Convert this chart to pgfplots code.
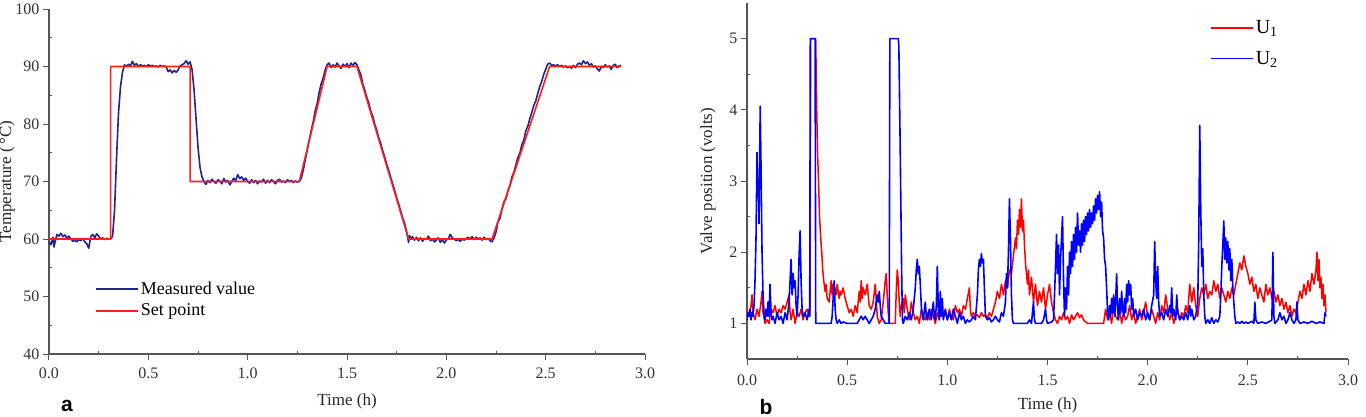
\documentclass[border=0pt]{standalone}
\usepackage{fontspec}
\setmainfont{Liberation Serif}
\newfontfamily\panelfont{Liberation Sans}
\usepackage{pgfplots}
\pgfplotsset{compat=1.18}
\definecolor{meas}{RGB}{35,35,140}
\definecolor{setp}{RGB}{255,30,30}
\definecolor{uone}{RGB}{255,0,0}
\definecolor{utwo}{RGB}{0,0,255}
\definecolor{axisgray}{RGB}{85,85,85}

\pgfplotsset{
  common/.style={
    scale only axis, anchor=south west,
    axis x line=bottom, axis y line=left,
    axis line style={-, draw=axisgray, line width=1.2bp},
    tick style={draw=axisgray, line width=1bp},
    tick align=outside, major tick length=6bp, minor tick length=-3bp,
    xmin=0, xmax=3, xtick={0,0.5,1,1.5,2,2.5,3}, minor x tick num=1,
    /pgf/number format/assume math mode=true,
    xticklabel style={/pgf/number format/fixed, /pgf/number format/fixed zerofill, /pgf/number format/precision=1, font=\fontsize{16bp}{19bp}\selectfont, color=black!80},
    yticklabel style={font=\fontsize{16bp}{19bp}\selectfont, color=black!80},
    label style={font=\fontsize{17bp}{20bp}\selectfont, color=black!85},
    legend cell align=left,
  }
}

\begin{document}
\begin{tikzpicture}
\useasboundingbox (0bp,0bp) rectangle (1366bp,417bp);
\begin{axis}[common,
  at={(49bp,63bp)}, width=596bp, height=345bp,
  ymin=40, ymax=100, ytick={40,50,...,100}, minor y tick num=1,
  xticklabel style={yshift=-4bp},
  xlabel={Time (h)}, ylabel={Temperature (\,°C)},
  xlabel style={at={(axis description cs:0.5,0)}, anchor=center, yshift=-47bp},
  ylabel style={at={(axis description cs:-0.0705,0.5)}, anchor=center},
  legend image code/.code={\draw[#1] (0bp,0bp) -- (42bp,0bp);},
  legend style={draw=none, fill=none, at={(axis cs:0.2315,53.25)}, anchor=north west, inner sep=0pt, nodes={inner xsep=2pt, inner ysep=4bp}, font=\fontsize{18bp}{21bp}\selectfont},
]
\addplot[meas, line width=1.6bp, line join=round] coordinates {
(0.00,59.6)(0.01,59.0)(0.02,60.3)(0.025,58.6)(0.03,59.4)(0.04,60.8)(0.05,60.5)(0.06,61.0)(0.07,60.4)(0.08,60.7)(0.09,60.2)(0.10,60.5)(0.11,60.0)(0.12,59.6)(0.13,59.8)(0.14,59.5)(0.15,59.9)(0.16,59.7)(0.17,60.1)(0.18,59.5)(0.19,59.2)(0.20,58.4)(0.21,60.4)(0.22,60.8)(0.23,60.2)(0.24,60.9)(0.25,60.5)(0.26,60.0)(0.27,60.2)(0.28,59.9)(0.29,60.1)(0.30,60.0)(0.31,60.0)(0.32,60.5)(0.33,65)(0.34,74)(0.35,82)(0.36,86.5)(0.37,89.0)(0.38,90.3)(0.39,90.0)(0.40,90.4)(0.41,90.1)(0.42,90.9)(0.43,90.2)(0.44,90.5)(0.45,90.0)(0.46,90.3)(0.47,90.1)(0.48,90.2)(0.49,90.0)(0.50,90.3)(0.51,90.1)(0.52,90.2)(0.53,90.0)(0.54,90.1)(0.55,89.9)(0.56,90.2)(0.57,90.0)(0.58,90.1)(0.59,89.9)(0.60,89.1)(0.61,89.4)(0.62,88.9)(0.63,89.3)(0.64,89.0)(0.65,89.4)(0.66,90.1)(0.67,90.3)(0.68,90.5)(0.69,91.0)(0.70,90.4)(0.71,90.8)(0.72,89.5)(0.73,86)(0.74,81)(0.75,76)(0.76,72.5)(0.77,70.8)
(0.78,70.0)(0.79,69.5)(0.80,70.2)(0.81,69.8)(0.82,70.4)(0.83,70.0)(0.84,69.7)(0.85,70.3)(0.86,70.1)(0.87,69.6)(0.88,70.5)(0.89,69.9)(0.90,70.2)(0.91,69.4)(0.92,70.0)(0.93,70.6)(0.94,70.1)(0.95,71.2)(0.96,70.5)(0.97,70.8)(0.98,70.2)(0.99,70.6)(1.00,70.0)(1.01,69.7)(1.02,70.3)(1.03,69.8)(1.04,70.2)(1.05,69.6)(1.06,70.1)(1.07,69.9)(1.08,70.4)(1.09,69.7)(1.10,70.2)(1.11,69.8)(1.12,70.3)(1.13,70.0)(1.14,69.6)(1.15,70.2)(1.16,70.4)(1.17,69.9)(1.18,70.1)(1.19,69.8)(1.20,70.3)(1.21,70.0)(1.22,70.2)(1.23,69.8)(1.24,70.1)(1.25,69.9)(1.26,70.0)(1.27,70.6)(1.28,72.0)(1.29,73.8)(1.30,75.5)(1.31,77.2)(1.32,78.9)(1.33,80.4)(1.34,82.3)(1.35,83.6)(1.36,85.5)(1.37,87.0)(1.38,88.0)(1.39,89.4)(1.40,90.3)(1.41,90.6)(1.42,89.8)(1.43,90.3)(1.44,89.9)(1.45,90.6)(1.46,90.1)(1.47,89.7)(1.48,90.4)(1.49,90.0)(1.50,90.5)(1.51,89.8)(1.52,90.6)(1.53,90.2)(1.54,90.7)(1.55,90.3)
(1.56,89.4)(1.57,88.5)(1.58,86.9)(1.59,85.8)(1.60,84.6)(1.61,83.6)(1.62,82.2)(1.63,81.3)(1.64,79.9)(1.65,78.9)(1.66,77.6)(1.67,76.6)(1.68,75.3)(1.69,74.2)(1.70,73.0)(1.71,71.9)(1.72,70.7)(1.73,69.6)(1.74,68.4)(1.75,67.2)(1.76,66.1)(1.77,64.9)(1.78,63.7)(1.79,62.7)(1.80,61.3)(1.81,59.4)(1.815,60.6)(1.82,60.1)(1.83,60.4)(1.84,59.8)(1.85,60.3)(1.86,59.7)(1.87,60.2)(1.88,59.6)(1.89,60.1)(1.90,59.9)(1.91,60.5)(1.92,59.7)(1.93,60.0)(1.94,59.5)(1.95,59.8)(1.96,60.2)(1.97,59.4)(1.98,59.9)(1.99,59.3)(2.00,59.8)(2.01,60.1)(2.02,60.8)(2.03,60.2)(2.04,60.0)(2.05,59.7)(2.06,59.9)(2.07,59.6)(2.08,60.0)(2.09,59.8)(2.10,60.1)(2.11,60.3)(2.12,60.0)(2.13,60.4)(2.14,59.9)(2.15,60.3)(2.16,60.0)(2.17,60.2)(2.18,59.8)(2.19,60.3)(2.20,59.9)(2.21,60.1)(2.22,59.7)(2.23,59.5)
(2.24,60.2)(2.25,61.2)(2.26,63.0)(2.27,63.6)(2.28,65.2)(2.29,66.5)(2.30,67.0)(2.31,68.4)(2.32,69.3)(2.33,70.8)(2.34,71.6)(2.35,72.9)(2.36,74.2)(2.37,74.9)(2.38,76.4)(2.39,77.2)(2.40,78.8)(2.41,79.6)(2.42,80.9)(2.43,82.0)(2.44,83.2)(2.45,84.0)(2.46,85.3)(2.47,86.5)(2.48,87.4)(2.49,88.6)(2.50,89.5)(2.51,90.4)(2.52,90.6)(2.53,90.2)(2.54,90.3)(2.55,90.1)(2.56,90.3)(2.57,90.0)(2.58,90.2)(2.59,89.9)(2.60,90.1)(2.61,89.8)(2.62,90.0)(2.63,89.7)(2.64,90.2)(2.65,89.8)(2.66,90.4)(2.67,90.6)(2.68,90.3)(2.69,91.0)(2.70,90.5)(2.71,90.8)(2.72,90.2)(2.73,90.5)(2.74,89.9)(2.75,90.1)(2.76,89.6)(2.77,89.2)(2.78,90.0)(2.79,89.8)(2.80,90.3)(2.81,89.9)(2.82,90.1)(2.83,89.5)(2.84,90.2)(2.85,90.4)(2.86,89.8)(2.87,90.1)(2.88,90.2)
};
\addlegendentry{Measured value}
\addplot[setp, line width=1.6bp, line join=round] coordinates {
(0,60)(0.31,60)(0.31,90)(0.71,90)(0.71,70)(1.26,70)(1.40,90)(1.55,90)(1.81,60)(2.23,60)(2.52,90)(2.88,90)
};
\addlegendentry{Set point}
\end{axis}
\node[font=\panelfont\bfseries\fontsize{21bp}{24bp}\selectfont] at (67bp,11bp) {a};

\begin{axis}[common,
  at={(747bp,58bp)}, width=601bp, height=356bp,
  ymin=0.5, ymax=5.5, ytick={1,2,3,4,5}, minor y tick num=1,
  xticklabel style={yshift=-6bp},
  xlabel={Time (h)}, ylabel={Valve position (volts)},
  xlabel style={at={(axis description cs:0.5,0)}, anchor=center, yshift=-46bp},
  ylabel style={at={(axis description cs:-0.0649,0.5)}, anchor=center},
  legend image code/.code={\draw[#1] (0bp,0bp) -- (42bp,0bp);},
  legend style={draw=none, fill=none, at={(axis cs:2.311,5.37)}, anchor=north west, inner sep=0pt, nodes={inner xsep=2pt, inner ysep=8bp}, font=\fontsize{20bp}{23bp}\selectfont},
]
\addlegendimage{draw=uone, color=uone, line width=1.5bp}
\addlegendentry{U\textsubscript{1}}
\addlegendimage{draw=utwo, color=utwo, line width=1.6bp}
\addlegendentry{U\textsubscript{2}}
\addplot[uone, line width=1.5bp, line join=round, forget plot] coordinates {
(0.00,1.20)(0.01,1.10)(0.02,1.25)(0.025,1.40)(0.03,1.15)(0.04,1.05)(0.05,1.20)(0.06,1.10)(0.07,1.30)(0.075,1.45)(0.08,1.15)(0.09,1.00)(0.10,1.05)(0.11,1.00)(0.12,1.20)(0.13,1.15)(0.14,1.25)(0.15,1.10)(0.16,1.20)(0.17,1.15)(0.18,1.25)(0.19,1.20)(0.20,1.30)(0.21,1.40)(0.215,1.15)(0.22,1.05)(0.23,1.20)(0.24,1.00)(0.25,1.15)(0.26,1.10)(0.27,1.20)(0.28,1.05)(0.29,1.15)(0.30,1.20)(0.31,1.10)(0.315,1.20)(0.318,5.00)(0.343,5.00)(0.348,4.00)(0.352,3.40)(0.357,3.00)(0.362,2.50)(0.368,2.20)(0.373,2.00)(0.378,1.75)(0.383,1.60)(0.39,1.45)(0.395,1.55)(0.40,1.35)(0.41,1.30)(0.415,1.45)(0.42,1.60)(0.425,1.40)(0.43,1.55)(0.435,1.35)(0.44,1.50)(0.445,1.40)(0.45,1.55)(0.46,1.35)(0.465,1.45)(0.47,1.40)(0.48,1.50)(0.49,1.35)(0.50,1.25)(0.51,1.15)(0.52,1.20)(0.53,1.10)(0.54,1.25)(0.55,1.15)(0.56,1.45)(0.565,1.30)(0.57,1.60)(0.575,1.35)(0.58,1.50)(0.59,1.40)(0.60,1.55)(0.61,1.25)(0.62,1.20)(0.63,1.30)(0.64,1.55)(0.645,1.35)(0.65,1.10)(0.66,1.00)(0.67,1.05)(0.68,1.30)(0.69,1.60)(0.695,1.70)(0.70,1.40)(0.705,1.15)(0.71,1.00)(0.74,1.00)(0.745,1.45)(0.75,1.75)(0.755,1.60)(0.76,1.30)(0.765,1.10)(0.77,1.25)(0.78,1.35)(0.785,1.15)(0.79,1.40)(0.80,1.20)(0.81,1.05)(0.82,1.30)(0.83,1.15)(0.84,1.05)(0.85,1.10)(0.86,1.00)(0.87,1.20)(0.88,1.10)(0.89,1.05)(0.90,1.15)(0.91,1.05)(0.92,1.20)(0.93,1.10)(0.94,1.00)(0.95,1.15)(0.96,1.05)(0.97,1.25)(0.98,1.10)(0.99,1.15)(1.00,1.05)(1.01,1.20)(1.02,1.10)(1.03,1.05)(1.04,1.25)(1.05,1.15)(1.06,1.20)(1.07,1.10)(1.08,1.25)(1.09,1.20)(1.10,1.35)(1.11,1.50)(1.115,1.20)(1.12,1.10)(1.13,1.15)(1.14,1.10)(1.15,1.12)(1.16,1.08)(1.17,1.15)(1.18,1.10)(1.19,1.12)(1.20,1.08)(1.21,1.15)(1.22,1.10)(1.23,1.20)(1.24,1.30)(1.25,1.45)(1.26,1.35)(1.27,1.55)(1.28,1.40)(1.29,1.60)(1.30,1.50)(1.31,1.75)(1.32,1.70)(1.33,1.95)(1.34,2.20)(1.345,2.05)(1.35,2.45)(1.355,2.25)(1.36,2.60)(1.365,2.35)(1.37,2.75)(1.375,2.30)(1.38,2.45)(1.385,2.10)(1.39,1.85)(1.40,1.55)(1.405,1.75)(1.41,1.40)(1.42,1.65)(1.43,1.30)(1.44,1.55)(1.45,1.25)(1.46,1.45)(1.47,1.30)(1.48,1.50)(1.49,1.20)(1.50,1.40)(1.51,1.55)(1.52,1.30)(1.53,1.15)(1.54,1.05)(1.55,1.00)(1.56,1.10)(1.57,1.05)(1.58,1.15)(1.59,1.05)(1.60,1.10)(1.61,1.00)(1.62,1.12)(1.63,1.05)(1.64,1.10)(1.65,1.15)(1.66,1.08)(1.67,1.12)(1.68,1.05)(1.69,1.02)(1.70,1.00)(1.75,1.00)(1.78,1.00)(1.79,1.20)(1.80,1.05)(1.81,1.15)(1.82,1.00)(1.83,1.25)(1.84,1.10)(1.85,1.05)(1.86,1.20)(1.87,1.00)(1.88,1.15)(1.89,1.05)(1.90,1.10)(1.91,1.25)(1.92,1.05)(1.93,1.15)(1.94,1.00)(1.95,1.10)(1.96,1.20)(1.97,1.05)(1.98,1.15)(1.99,1.30)(2.00,1.10)(2.01,1.05)(2.02,1.20)(2.03,1.10)(2.04,1.00)(2.05,1.15)(2.06,1.05)(2.07,1.25)(2.08,1.15)(2.09,1.40)(2.10,1.20)(2.11,1.05)(2.12,1.15)(2.13,1.00)(2.14,1.10)(2.15,1.20)(2.16,1.05)(2.17,1.15)(2.18,1.10)(2.19,1.25)(2.20,1.15)(2.21,1.55)(2.22,1.30)(2.23,1.50)(2.24,1.25)(2.25,1.10)(2.26,1.35)(2.27,1.50)(2.28,1.40)(2.29,1.55)(2.30,1.35)(2.31,1.45)(2.32,1.40)(2.33,1.60)(2.34,1.45)(2.35,1.55)(2.36,1.35)(2.37,1.50)(2.38,1.40)(2.39,1.30)(2.40,1.45)(2.41,1.35)(2.42,1.50)(2.43,1.40)(2.44,1.55)(2.45,1.70)(2.46,1.85)(2.47,1.75)(2.48,1.95)(2.49,1.80)(2.50,1.70)(2.51,1.55)(2.52,1.65)(2.53,1.45)(2.54,1.55)(2.55,1.35)(2.56,1.50)(2.57,1.40)(2.58,1.30)(2.59,1.55)(2.60,1.40)(2.61,1.50)(2.62,1.35)(2.63,1.45)(2.64,1.30)(2.65,1.40)(2.66,1.25)(2.67,1.35)(2.68,1.20)(2.69,1.30)(2.70,1.15)(2.71,1.25)(2.72,1.10)(2.73,1.20)(2.74,1.15)(2.75,1.30)(2.76,1.45)(2.77,1.35)(2.78,1.55)(2.79,1.40)(2.80,1.60)(2.81,1.45)(2.82,1.70)(2.83,1.55)(2.84,1.75)(2.845,2.00)(2.85,1.60)(2.855,1.90)(2.86,1.50)(2.865,1.65)(2.87,1.35)(2.875,1.55)(2.88,1.25)(2.885,1.40)(2.89,1.15)
};
\addplot[utwo, line width=1.6bp, line join=round, forget plot] coordinates {
(0.00,1.05)(0.005,1.15)(0.01,1.10)(0.015,1.20)(0.02,1.05)(0.025,1.15)(0.03,1.10)(0.035,1.25)(0.04,1.60)(0.045,2.20)(0.05,3.40)(0.053,2.90)(0.056,3.00)(0.06,2.40)(0.063,3.30)(0.066,4.05)(0.07,3.20)(0.075,2.00)(0.08,1.40)(0.085,1.15)(0.09,1.05)(0.095,1.20)(0.10,1.10)(0.105,1.30)(0.11,1.10)(0.115,1.55)(0.12,1.15)(0.125,1.05)(0.13,1.10)(0.14,1.00)(0.15,1.15)(0.16,1.05)(0.17,1.10)(0.18,1.00)(0.19,1.15)(0.20,1.05)(0.21,1.30)(0.215,1.60)(0.22,1.90)(0.225,1.40)(0.23,1.70)(0.235,1.50)(0.24,1.60)(0.245,1.25)(0.25,1.10)(0.255,1.40)(0.26,1.95)(0.265,2.30)(0.27,1.60)(0.275,1.20)(0.28,1.10)(0.29,1.15)(0.30,1.05)(0.31,1.20)(0.313,1.10)(0.316,5.00)(0.34,5.00)(0.343,1.00)(0.42,1.00)(0.425,1.10)(0.43,1.35)(0.435,1.60)(0.44,1.20)(0.445,1.05)(0.45,1.00)(0.46,1.05)(0.47,1.00)(0.48,1.02)(0.50,1.00)(0.55,1.00)(0.56,1.05)(0.57,1.10)(0.58,1.05)(0.59,1.10)(0.60,1.05)(0.61,1.00)(0.62,1.05)(0.63,1.10)(0.64,1.20)(0.65,1.40)(0.655,1.30)(0.66,1.45)(0.665,1.25)(0.67,1.10)(0.68,1.05)(0.69,1.00)(0.71,1.00)(0.713,5.00)(0.755,5.00)(0.758,4.90)(0.765,3.40)(0.772,1.70)(0.776,1.05)(0.78,1.00)(0.79,1.10)(0.80,1.05)(0.81,1.15)(0.82,1.05)(0.83,1.20)(0.84,1.50)(0.845,1.75)(0.85,1.90)(0.855,1.70)(0.86,1.80)(0.865,1.55)(0.87,1.25)(0.875,1.10)(0.88,1.05)(0.89,1.30)(0.895,1.10)(0.90,1.05)(0.91,1.20)(0.92,1.05)(0.93,1.30)(0.935,1.10)(0.94,1.05)(0.945,1.25)(0.95,1.80)(0.955,1.20)(0.96,1.05)(0.965,1.45)(0.97,1.10)(0.975,1.35)(0.98,1.05)(0.99,1.20)(1.00,1.05)(1.01,1.15)(1.02,1.05)(1.03,1.20)(1.04,1.10)(1.05,1.00)(1.06,1.15)(1.07,1.05)(1.08,1.10)(1.09,1.00)(1.10,1.05)(1.11,1.02)(1.12,1.05)(1.13,1.10)(1.14,1.05)(1.15,1.40)(1.155,1.75)(1.16,1.90)(1.165,1.80)(1.17,1.98)(1.175,1.85)(1.18,1.90)(1.185,1.50)(1.19,1.10)(1.20,1.05)(1.21,1.08)(1.22,1.02)(1.23,1.05)(1.24,1.10)(1.25,1.05)(1.26,1.02)(1.27,1.15)(1.28,1.10)(1.29,1.30)(1.295,1.70)(1.30,1.50)(1.305,2.00)(1.31,2.75)(1.315,2.20)(1.32,1.40)(1.325,1.05)(1.33,1.00)(1.40,1.00)(1.41,1.05)(1.42,1.00)(1.43,1.30)(1.435,1.05)(1.44,1.00)(1.47,1.00)(1.48,1.05)(1.49,1.20)(1.495,1.05)(1.50,1.00)(1.52,1.02)(1.53,1.05)(1.535,1.40)(1.54,1.80)(1.545,2.25)(1.55,1.70)(1.555,2.10)(1.56,1.40)(1.565,1.90)(1.57,2.20)(1.575,2.50)(1.58,1.60)(1.585,1.10)(1.59,1.50)(1.595,1.20)(1.60,1.80)(1.605,1.40)(1.61,2.00)(1.615,1.70)(1.62,2.15)(1.625,1.80)(1.63,2.25)(1.635,1.90)(1.64,2.35)(1.645,2.00)(1.65,2.55)(1.655,2.10)(1.66,2.30)(1.665,2.00)(1.67,2.40)(1.675,2.10)(1.68,2.45)(1.685,2.15)(1.69,2.50)(1.695,2.25)(1.70,2.55)(1.705,2.30)(1.71,2.60)(1.715,2.35)(1.72,2.55)(1.725,2.40)(1.73,2.65)(1.735,2.45)(1.74,2.75)(1.745,2.55)(1.75,2.80)(1.755,2.60)(1.76,2.85)(1.765,2.50)(1.77,2.70)(1.775,2.30)(1.78,2.20)(1.785,1.90)(1.79,1.80)(1.795,1.50)(1.80,1.15)(1.805,1.05)(1.81,1.25)(1.815,1.10)(1.82,1.35)(1.825,1.15)(1.83,1.40)(1.835,1.10)(1.84,1.30)(1.845,1.70)(1.85,1.20)(1.855,1.05)(1.86,1.35)(1.865,1.15)(1.87,1.45)(1.875,1.20)(1.88,1.10)(1.885,1.35)(1.89,1.15)(1.895,1.55)(1.90,1.30)(1.905,1.60)(1.91,1.40)(1.915,1.55)(1.92,1.20)(1.925,1.35)(1.93,1.10)(1.94,1.20)(1.95,1.05)(1.96,1.15)(1.97,1.10)(1.98,1.20)(1.99,1.05)(2.00,1.15)(2.01,1.05)(2.02,1.25)(2.03,1.40)(2.035,2.15)(2.04,1.60)(2.045,1.35)(2.05,1.80)(2.055,1.30)(2.06,1.10)(2.07,1.15)(2.08,1.05)(2.09,1.20)(2.10,1.10)(2.11,1.25)(2.115,1.15)(2.12,1.50)(2.125,1.10)(2.13,1.20)(2.14,1.05)(2.145,1.40)(2.15,1.15)(2.16,1.05)(2.17,1.10)(2.18,1.05)(2.19,1.15)(2.20,1.05)(2.21,1.25)(2.215,1.10)(2.22,1.20)(2.23,1.05)(2.24,1.10)(2.25,1.30)(2.255,2.20)(2.26,3.78)(2.265,2.60)(2.27,1.80)(2.275,2.05)(2.28,1.40)(2.285,1.10)(2.29,1.00)(2.30,1.05)(2.31,1.00)(2.32,1.08)(2.33,1.00)(2.34,1.05)(2.35,1.02)(2.36,1.10)(2.365,1.40)(2.37,1.80)(2.375,2.10)(2.38,2.44)(2.385,1.90)(2.39,2.20)(2.395,1.85)(2.40,2.15)(2.405,1.75)(2.41,2.05)(2.415,1.60)(2.42,1.90)(2.425,1.50)(2.43,1.30)(2.435,1.10)(2.44,1.00)(2.45,1.02)(2.46,1.00)(2.47,1.03)(2.48,1.00)(2.49,1.02)(2.50,1.00)(2.52,1.03)(2.53,1.00)(2.535,1.30)(2.54,1.05)(2.55,1.00)(2.57,1.02)(2.59,1.00)(2.61,1.03)(2.62,1.05)(2.625,2.00)(2.63,1.10)(2.635,1.00)(2.65,1.05)(2.66,1.15)(2.67,1.05)(2.68,1.10)(2.69,1.00)(2.70,1.05)(2.71,1.15)(2.72,1.05)(2.73,1.00)(2.74,1.05)(2.745,1.30)(2.75,1.05)(2.76,1.00)(2.78,1.02)(2.80,1.00)(2.82,1.03)(2.84,1.00)(2.86,1.02)(2.88,1.00)(2.885,1.15)(2.89,1.10)
};
\end{axis}
\node[font=\panelfont\bfseries\fontsize{21bp}{24bp}\selectfont] at (766bp,10bp) {b};
\end{tikzpicture}
\end{document}
